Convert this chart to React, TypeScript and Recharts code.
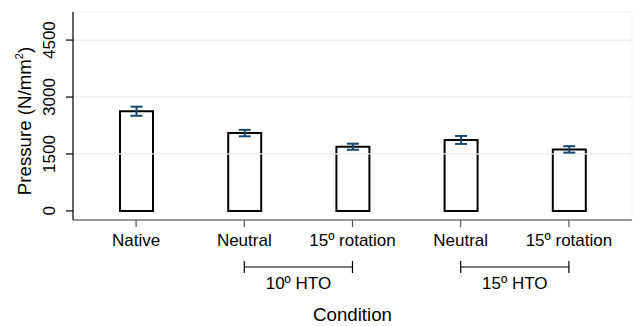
import { BarChart, Bar, XAxis, YAxis, ErrorBar, ReferenceLine } from "recharts"

const conditions = ["Native", "Neutral", "15º rotation", "Neutral", "15º rotation"]
const groups = ["", "10º HTO", "10º HTO", "15º HTO", "15º HTO"]
const pressure = [2625, 2050, 1690, 1870, 1620]
const pressureErr = [120, 85, 80, 105, 85]
const yTicks = [0, 1500, 3000, 4500]
const gridValues = [1500, 3000, 4500]

const data = conditions.map((c, i) => ({
    key: `c${i}`,
    label: c,
    group: groups[i],
    pressure: pressure[i],
    err: pressureErr[i],
}))

const FONT = "'Liberation Sans', Arial, sans-serif"

function YTick(props: any) {
    const { x, y, payload } = props
    return (
        <text
            x={x - 9}
            y={y}
            transform={`rotate(-90 ${x - 9} ${y})`}
            textAnchor="middle"
            fontSize={17}
            fontFamily={FONT}
            fill="#000"
        >
            {payload.value}
        </text>
    )
}

function YTitle(props: any) {
    const vb = props.viewBox || {}
    const cx = 31
    const cy = (vb.y || 0) + (vb.height || 0) / 2 + 5
    return (
        <text
            x={cx}
            y={cy}
            transform={`rotate(-90 ${cx} ${cy})`}
            textAnchor="middle"
            fontSize={18.7}
            fontFamily={FONT}
            fill="#000"
        >
            Pressure (N/mm
            <tspan fontSize={11} dy={-8}>2</tspan>
            <tspan dy={8}>)</tspan>
        </text>
    )
}

function XTick(props: any) {
    const { x, y, payload, index } = props
    const d = data[index]
    const step = 2 * (payload.offset || 0)
    const next = data[index + 1]
    const startsGroup = d.group && (!data[index - 1] || data[index - 1].group !== d.group)
    const hasPair = startsGroup && next && next.group === d.group
    return (
        <g>
            <text x={x} y={y + 17} textAnchor="middle" fontSize={17} fontFamily={FONT} fill="#000">
                {d.label}
            </text>
            {hasPair && (
                <g stroke="#000" strokeWidth={1.2}>
                    <line x1={x} x2={x + step} y1={y + 38} y2={y + 38} />
                    <line x1={x} x2={x} y1={y + 32} y2={y + 44} />
                    <line x1={x + step} x2={x + step} y1={y + 32} y2={y + 44} />
                    <text
                        x={x + step / 2}
                        y={y + 60}
                        textAnchor="middle"
                        fontSize={17}
                        fontFamily={FONT}
                        fill="#000"
                        stroke="none"
                    >
                        {d.group}
                    </text>
                </g>
            )}
        </g>
    )
}

export default function App() {
    return (
        <div style={{ position: "absolute", left: 0, top: 0, width: 638, height: 326, background: "#fff" }}>
            <BarChart
                width={638}
                height={326}
                data={data}
                margin={{ top: 12, right: 6, left: 0, bottom: 0 }}
                barCategoryGap={0}
            >
                <rect x={73} y={12} width={559} height={208} fill="none" stroke="#f2f5f5" />
                {gridValues.map((v) => (
                    <ReferenceLine key={v} y={v} stroke="#e6eff0" strokeWidth={1.2} />
                ))}
                <XAxis
                    dataKey="key"
                    type="category"
                    height={106}
                    padding={{ left: 9, right: 9 }}
                    axisLine={{ stroke: "#777", strokeWidth: 1.5 }}
                    tickLine={{ stroke: "#555", strokeWidth: 1.2 }}
                    tickSize={7}
                    interval={0}
                    tick={<XTick />}
                    label={{
                        value: "Condition",
                        position: "insideBottom",
                        offset: 5,
                        fontSize: 18.7,
                        fontFamily: FONT,
                        fill: "#000",
                    }}
                />
                <YAxis
                    width={73}
                    domain={[-240, 5240]}
                    ticks={yTicks}
                    interval={0}
                    axisLine={{ stroke: "#000", strokeWidth: 1.2 }}
                    tickLine={{ stroke: "#000", strokeWidth: 1.2 }}
                    tickSize={7}
                    tick={<YTick />}
                    label={<YTitle />}
                />
                <Bar
                    dataKey="pressure"
                    barSize={33}
                    fill="#fff"
                    stroke="#000"
                    strokeWidth={2}
                    isAnimationActive={false}
                >
                    <ErrorBar dataKey="err" width={6} stroke="#1a476f" strokeWidth={2} direction="y" />
                </Bar>
            </BarChart>
        </div>
    )
}
